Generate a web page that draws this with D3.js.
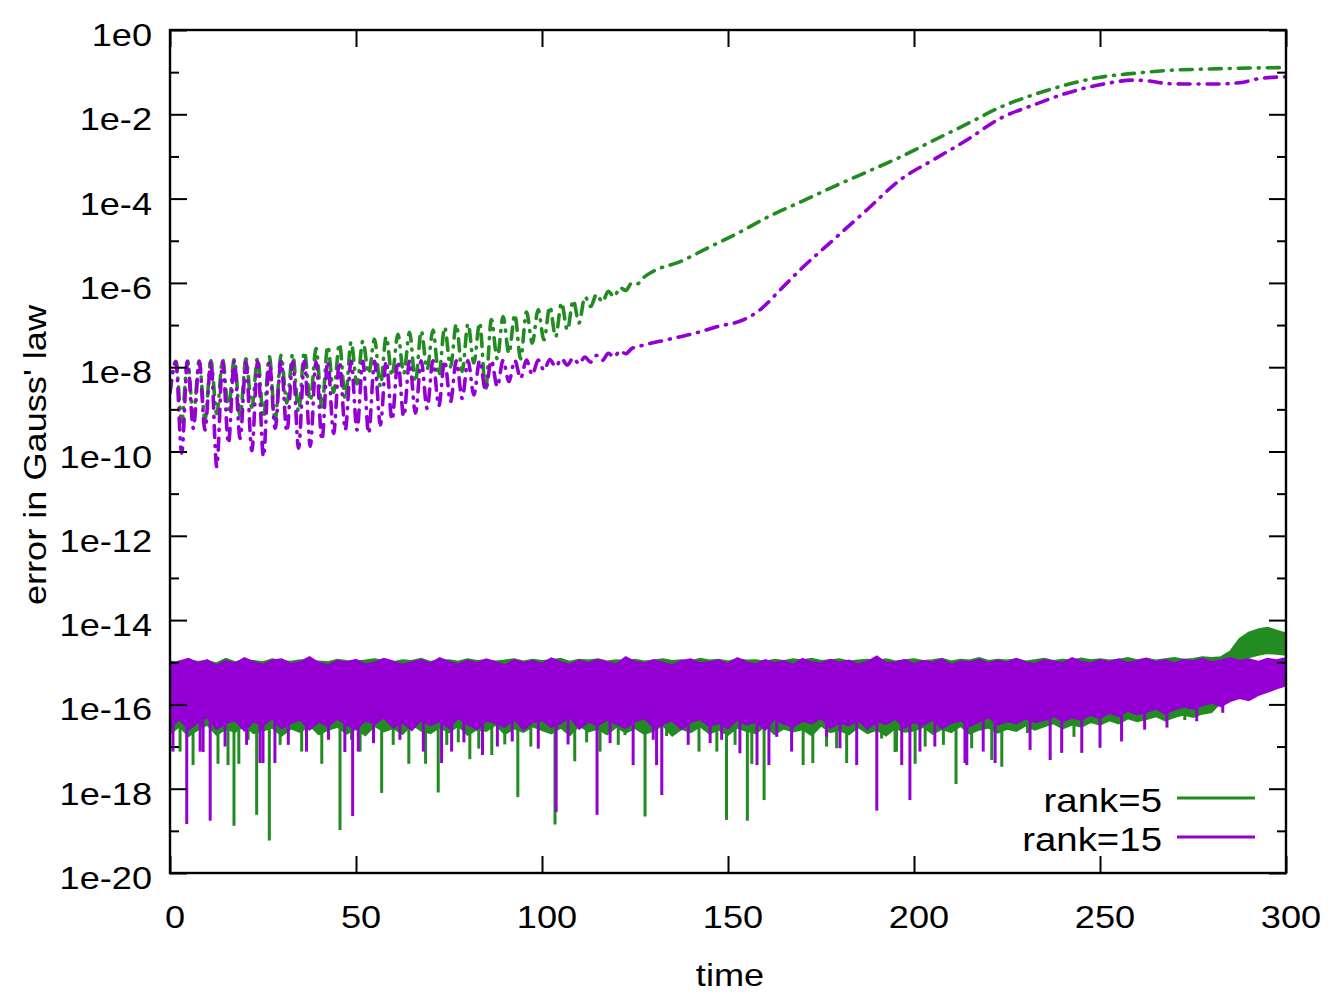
<!DOCTYPE html>
<html>
<head>
<meta charset="utf-8">
<script src="https://cdn.jsdelivr.net/npm/d3@7"></script>
<style>
body { margin: 0; background: #fff; }
text { font-family: "Liberation Sans", Arial, Helvetica, sans-serif; font-size: 32px; fill: #000; }
</style>
</head>
<body>
<div id="chart"></div>
<script>
// values are log10 of the error
var xTicks = [0, 50, 100, 150, 200, 250, 300];
var yMajor = [0, -2, -4, -6, -8, -10, -12, -14, -16, -18, -20];
var yMinor = [-1, -3, -5, -7, -9, -11, -13, -15, -17, -19];
var seriesNames = ["rank=5", "rank=15"];
var seriesColors = ["#228b22", "#9400d3"];

// noise band, sampled every 2.5 time units (t = 0 .. 300)
var bandStep = 2.5;
var rank5Top = [
  -14.98,-15.02,-14.96,-14.99,-14.97,-15.03,-14.92,-15.00,-14.95,-14.97,
  -15.00,-14.93,-14.97,-14.99,-14.95,-14.96,-14.98,-15.00,-14.94,-14.97,
  -14.98,-14.96,-14.93,-14.97,-15.00,-14.95,-14.97,-14.92,-14.99,-14.96,
  -14.95,-14.99,-14.93,-14.97,-14.95,-14.98,-14.96,-14.93,-14.98,-14.94,
  -14.97,-14.95,-14.92,-14.99,-14.94,-14.96,-14.93,-14.98,-14.95,-14.97,
  -14.94,-14.98,-14.96,-14.93,-14.97,-14.95,-14.98,-14.92,-14.96,-14.94,
  -14.98,-14.93,-14.96,-14.95,-14.99,-14.94,-14.97,-14.93,-14.96,-14.92,
  -14.97,-14.95,-14.93,-14.98,-14.96,-14.94,-14.97,-14.93,-14.98,-14.95,
  -14.93,-14.97,-14.95,-14.92,-14.98,-14.94,-14.96,-14.90,-14.97,-14.94,
  -14.96,-14.93,-14.98,-14.95,-14.92,-14.97,-14.94,-14.96,-14.91,-14.95,
  -14.93,-14.96,-14.94,-14.90,-14.95,-14.92,-14.96,-14.93,-14.90,-14.94,
  -14.92,-14.88,-14.90,-14.88,-14.75,-14.45,-14.30,-14.22,-14.18,-14.25,
  -14.32];
var rank5Bottom = [
  -16.70,-16.52,-16.75,-16.60,-16.48,-16.72,-16.58,-16.65,-16.50,-16.68,
  -16.62,-16.55,-16.74,-16.57,-16.66,-16.49,-16.71,-16.60,-16.53,-16.69,
  -16.58,-16.73,-16.51,-16.64,-16.56,-16.70,-16.47,-16.62,-16.68,-16.54,
  -16.66,-16.50,-16.72,-16.59,-16.63,-16.48,-16.70,-16.57,-16.65,-16.52,
  -16.61,-16.69,-16.55,-16.73,-16.50,-16.64,-16.58,-16.71,-16.53,-16.67,
  -16.56,-16.70,-16.62,-16.49,-16.74,-16.58,-16.66,-16.52,-16.69,-16.60,
  -16.72,-16.55,-16.63,-16.68,-16.51,-16.70,-16.57,-16.64,-16.59,-16.73,
  -16.50,-16.66,-16.61,-16.71,-16.54,-16.68,-16.60,-16.74,-16.56,-16.65,
  -16.62,-16.53,-16.70,-16.58,-16.66,-16.51,-16.69,-16.60,-16.55,-16.67,
  -16.58,-16.63,-16.50,-16.60,-16.52,-16.45,-16.57,-16.48,-16.53,-16.42,
  -16.48,-16.38,-16.45,-16.33,-16.40,-16.35,-16.28,-16.38,-16.30,-16.24,
  -16.30,-16.22,-16.18,-15.95,-15.40,-15.05,-14.88,-14.82,-14.78,-14.80,
  -14.82];
var rank15Top = [
  -15.05,-14.98,-14.92,-15.02,-14.95,-15.08,-14.97,-15.03,-14.90,-15.00,
  -15.06,-14.96,-14.93,-15.04,-15.00,-14.88,-15.02,-15.07,-14.97,-15.00,
  -14.94,-15.05,-15.01,-14.92,-14.98,-15.06,-15.00,-14.95,-15.03,-14.90,
  -14.99,-15.05,-14.96,-15.02,-14.93,-15.00,-15.07,-14.95,-15.01,-14.97,
  -15.04,-14.91,-15.00,-15.06,-14.96,-15.02,-14.94,-15.00,-15.05,-14.88,
  -14.99,-15.03,-14.95,-15.01,-15.07,-14.97,-14.93,-15.02,-15.00,-14.96,
  -15.04,-14.90,-15.00,-15.05,-14.95,-15.02,-14.97,-15.06,-14.92,-15.00,
  -15.03,-14.94,-15.01,-14.96,-15.05,-14.99,-14.86,-15.02,-15.00,-14.95,
  -15.04,-14.97,-15.01,-14.93,-15.06,-14.98,-15.00,-14.94,-15.03,-14.96,
  -15.01,-14.92,-15.00,-15.04,-14.95,-14.98,-15.02,-14.90,-14.99,-15.03,
  -14.95,-15.00,-14.93,-15.02,-14.97,-14.91,-15.00,-14.95,-15.03,-14.94,
  -14.98,-14.92,-15.00,-14.96,-14.90,-14.97,-14.93,-14.99,-14.92,-14.95,
  -14.90];
var rank15Bottom = [
  -16.55,-16.35,-16.60,-16.42,-16.30,-16.58,-16.45,-16.38,-16.62,-16.40,
  -16.50,-16.33,-16.57,-16.44,-16.36,-16.60,-16.41,-16.52,-16.34,-16.48,
  -16.58,-16.39,-16.46,-16.31,-16.55,-16.43,-16.61,-16.37,-16.49,-16.40,
  -16.56,-16.32,-16.47,-16.59,-16.38,-16.44,-16.53,-16.35,-16.60,-16.42,
  -16.37,-16.54,-16.45,-16.30,-16.58,-16.41,-16.50,-16.36,-16.47,-16.56,
  -16.40,-16.33,-16.55,-16.46,-16.38,-16.59,-16.42,-16.35,-16.52,-16.44,
  -16.57,-16.36,-16.48,-16.41,-16.60,-16.34,-16.46,-16.53,-16.39,-16.45,
  -16.32,-16.56,-16.43,-16.50,-16.37,-16.58,-16.40,-16.47,-16.34,-16.55,
  -16.42,-16.49,-16.36,-16.57,-16.44,-16.38,-16.52,-16.41,-16.30,-16.48,
  -16.40,-16.45,-16.33,-16.42,-16.37,-16.28,-16.40,-16.31,-16.36,-16.25,
  -16.32,-16.20,-16.28,-16.15,-16.24,-16.18,-16.10,-16.22,-16.12,-16.05,
  -16.10,-16.02,-15.96,-16.04,-15.92,-15.85,-15.90,-15.78,-15.70,-15.62,
  -15.55];

// downward spikes below the band: [time, log10 error]
var rank5Spikes = [
  [2.7,-17.12],[6.2,-17.44],[12.9,-17.41],[15.6,-17.44],[17.2,-18.88],[18.5,-17.41],
  [21,-16.84],[23.3,-18.62],[26.7,-19.23],[29.6,-16.96],[35.4,-17.12],[40.8,-17.41],
  [45.7,-18.98],[48.8,-16.84],[51.1,-17.12],[56.9,-18.1],[60,-16.96],[64.2,-17.41],
  [68.7,-17.41],[72.1,-18.09],[74.4,-16.96],[77.5,-16.9],[80.6,-17.3],[83,-17.05],
  [86.5,-17.2],[90,-16.95],[93.5,-18.2],[97,-17.0],[103.5,-18.85],[108.8,-17.35],
  [112,-16.9],[115.6,-17.12],[120.5,-16.96],[122.3,-16.73],[127.7,-18.66],[133.5,-16.75],
  [135.8,-16.7],[142.2,-17.12],[147,-17.12],[149.6,-18.74],[151.9,-16.96],[155.2,-18.76],
  [156.4,-17.41],[159.7,-18.27],[170.2,-17.44],[172.8,-17.39],[176.5,-17.0],[179.2,-17.04],
  [181.9,-17.39],[191.3,-16.81],[194.9,-17.13],[195.3,-17.12],[200.3,-17.41],[203,-17.0],
  [207.9,-16.96],[211.3,-17.89],[215.5,-17.04],[220.9,-17.32],[223.6,-17.48],[230.5,-16.68],
  [243,-16.77],[272.8,-16.37]];
var rank15Spikes = [
  [0.8,-17.12],[4.5,-18.84],[8.1,-17.12],[8.9,-17.13],[10.8,-18.76],[14.8,-17.0],
  [20.6,-16.96],[24.2,-17.39],[25,-17.39],[28.2,-17.39],[31.8,-16.96],[36.7,-17.12],
  [42.6,-16.84],[47,-17.13],[49.1,-18.65],[50.6,-17.12],[54.7,-16.92],[61.8,-16.84],
  [68.1,-17.12],[73,-17.39],[75.7,-17.12],[79,-16.9],[84,-17.2],[88,-17.0],
  [92,-16.88],[99,-17.05],[103.8,-18.55],[107,-16.95],[114.8,-18.62],[118.3,-16.92],
  [124.5,-17.44],[129.9,-16.84],[130.8,-17.44],[132.2,-18.15],[139.3,-16.96],[145.2,-16.92],
  [148.3,-16.84],[153.2,-17.16],[157.8,-17.44],[161,-17.44],[163.1,-16.77],[167.1,-17.12],
  [176.5,-16.77],[180.1,-17.04],[184.6,-17.44],[190,-18.52],[196.7,-17.44],[198.9,-18.27],
  [201.6,-17.12],[205.6,-17.0],[213.7,-17.39],[214.2,-17.44],[218.6,-17.12],[221.8,-17.39],
  [231.2,-17.08],[236.6,-17.32],[239.7,-17.15],[245.1,-17.15],[250,-17.03],[255.8,-16.88],
  [262,-16.6],[268,-16.55],[276,-16.4],[283,-16.2]];

// dash-dot curves: [time, log10 error]
var rank5Dashed = [
  [0,-8.6],[1.57,-7.86],[3.14,-9.3],[4.71,-7.86],[6.28,-9.15],[7.85,-7.85],[9.42,-9.25],
  [11.0,-7.84],[12.57,-9.1],[14.14,-7.82],[15.71,-9.0],[17.28,-7.81],[18.85,-9.15],
  [20.42,-7.8],[21.99,-8.95],[23.56,-7.78],[25.13,-9.2],[26.7,-7.75],[28.27,-9.25],
  [29.85,-7.72],[31.42,-8.85],[32.99,-7.69],[34.56,-9.05],[36.13,-7.63],[37.7,-8.8],
  [39.27,-7.56],[40.84,-8.95],[42.41,-7.5],[43.98,-8.6],[45.55,-7.44],[47.12,-8.75],
  [48.69,-7.4],[50.27,-8.4],[51.84,-7.38],[53.41,-8.15],[54.98,-7.33],[56.55,-8.45],
  [58.12,-7.28],[59.69,-8.2],[61.26,-7.22],[62.83,-8.15],[64.4,-7.17],[65.97,-8.35],
  [67.54,-7.14],[69.12,-8.05],[70.69,-7.12],[72.26,-8.2],[73.83,-7.05],[75.4,-7.99],
  [76.97,-6.98],[78.54,-8.1],[80.11,-6.97],[81.68,-7.9],[83.25,-6.94],[84.82,-8.54],
  [86.39,-6.87],[87.96,-7.8],[89.54,-6.8],[91.11,-7.67],[92.68,-6.75],[94.25,-7.8],
  [95.82,-6.69],[97.39,-7.43],[98.96,-6.63],[100.53,-7.35],[102.1,-6.56],[103.67,-7.28],
  [105.24,-6.47],[106.81,-7.12],[108.38,-6.41],[109.96,-6.95],[111.53,-6.33],[113.1,-6.56],
  [114.67,-6.27],[116.24,-6.45],[117.81,-6.2],[119.38,-6.33],[120.95,-6.11],[122.52,-6.18],
  [124.09,-6.01],[125.66,-6.02],[127.2,-5.88],[130,-5.72],[137,-5.5],[145,-5.15],
  [152,-4.85],[160.4,-4.45],[170,-4.06],[178.3,-3.72],[187,-3.38],[196.2,-3.02],
  [205,-2.63],[214,-2.24],[223,-1.84],[232,-1.54],[241,-1.3],[250,-1.12],[259,-1.03],
  [268,-0.96],[277,-0.93],[286,-0.91],[300,-0.89]];
var rank15Dashed = [
  [0,-8.6],[1.57,-7.88],[3.14,-10.04],[4.71,-7.86],[6.28,-9.45],[7.85,-7.87],[9.42,-9.49],
  [11.0,-7.86],[12.57,-10.36],[14.14,-7.87],[15.71,-9.81],[17.28,-7.86],[18.85,-9.69],
  [20.42,-7.88],[21.99,-9.98],[23.56,-7.86],[25.13,-10.12],[26.7,-7.87],[28.27,-9.45],
  [29.85,-7.86],[31.42,-9.53],[32.99,-7.87],[34.56,-9.92],[36.13,-7.86],[37.7,-9.88],
  [39.27,-7.87],[40.84,-9.73],[42.41,-7.86],[43.98,-9.57],[45.55,-7.87],[47.12,-9.49],
  [48.69,-7.86],[50.27,-9.49],[51.84,-7.86],[53.41,-9.57],[54.98,-7.86],[56.55,-9.37],
  [58.12,-7.86],[59.69,-9.25],[61.26,-7.86],[62.83,-9.17],[64.4,-7.85],[65.97,-9.09],
  [67.54,-7.85],[69.12,-8.98],[70.69,-7.85],[72.26,-8.92],[73.83,-7.85],[75.4,-8.82],
  [76.97,-7.85],[78.54,-8.74],[80.11,-7.84],[81.68,-8.66],[83.25,-7.84],[84.82,-8.54],
  [86.39,-7.84],[87.96,-8.46],[89.54,-7.84],[91.11,-8.34],[92.68,-7.84],[94.25,-8.26],
  [95.82,-7.83],[97.39,-8.18],[98.96,-7.83],[100.53,-8.07],[102.1,-7.82],[103.67,-7.99],
  [105.24,-7.8],[106.81,-7.95],[108.38,-7.78],[109.96,-7.92],[111.53,-7.76],[113.1,-7.88],
  [114.67,-7.72],[116.24,-7.84],[117.81,-7.67],[119.38,-7.76],[120.95,-7.61],[122.52,-7.68],
  [124.09,-7.56],[126.3,-7.5],[133.5,-7.35],[142.5,-7.16],[147,-7.04],[154.1,-6.88],
  [158.6,-6.64],[164,-6.17],[169.4,-5.69],[178.3,-4.98],[187.3,-4.27],[196.2,-3.56],
  [205.2,-3.08],[214.2,-2.61],[223.1,-2.1],[232.1,-1.78],[241,-1.5],[250,-1.3],[259,-1.19],
  [263.4,-1.21],[267.9,-1.27],[272.4,-1.28],[281.3,-1.28],[287.6,-1.25],[293,-1.15],[300,-1.11]];

var width = 1334, height = 1000;
var plot = {left: 170, right: 1286, top: 30, bottom: 873};
var textStretch = "scale(1.13,1)";

var pow10 = function(v) { return Math.pow(10, v); };

var x = d3.scaleLinear().domain([0, 300]).range([plot.left, plot.right]);
var y = d3.scaleLog().domain([1e-20, 1]).range([plot.bottom, plot.top]);

var svg = d3.select("#chart").append("svg")
    .attr("width", width)
    .attr("height", height)
    .attr("viewBox", "0 0 " + width + " " + height);

svg.append("rect").attr("width", width).attr("height", height).attr("fill", "#fff");

svg.append("clipPath").attr("id", "plotClip")
  .append("rect")
    .attr("x", plot.left).attr("y", plot.top)
    .attr("width", plot.right - plot.left).attr("height", plot.bottom - plot.top);

var layer = svg.append("g").attr("clip-path", "url(#plotClip)");

var band = d3.area()
    .x(function(d) { return x(d.t); })
    .y0(function(d) { return y(pow10(d.lo)); })
    .y1(function(d) { return y(pow10(d.hi)); });

var bandRows = function(top, bottom) {
    return top.map(function(v, i) { return {t: i * bandStep, hi: v, lo: bottom[i]}; });
};

var drawNoise = function(top, bottom, spikes, color) {
    layer.append("path")
        .datum(bandRows(top, bottom))
        .attr("d", band)
        .attr("fill", color)
        .attr("stroke", color)
        .attr("stroke-width", 2)
        .attr("stroke-linejoin", "miter");

    layer.append("g").selectAll("line")
        .data(spikes)
      .join("line")
        .attr("x1", function(d) { return x(d[0]); })
        .attr("x2", function(d) { return x(d[0]); })
        .attr("y1", y(pow10(-15.8)))
        .attr("y2", function(d) { return y(pow10(d[1])); })
        .attr("stroke", color)
        .attr("stroke-width", 3);
};

drawNoise(rank5Top, rank5Bottom, rank5Spikes, seriesColors[0]);
drawNoise(rank15Top, rank15Bottom, rank15Spikes, seriesColors[1]);

var dashLine = d3.line()
    .x(function(d) { return x(d[0]); })
    .y(function(d) { return y(pow10(d[1])); })
    .curve(d3.curveMonotoneX);

[rank5Dashed, rank15Dashed].forEach(function(data, i) {
    layer.append("path")
        .datum(data)
        .attr("d", dashLine)
        .attr("fill", "none")
        .attr("stroke", seriesColors[i])
        .attr("stroke-width", 3.6)
        .attr("stroke-linecap", "round")
        .attr("stroke-dasharray", "12,8,1,8");
});

// ticks, all pointing inward
var tickAxis = function(axis, values, size, transform) {
    var g = svg.append("g")
        .attr("transform", transform)
        .call(axis.tickValues(values).tickSize(-size).tickFormat(""));
    g.select(".domain").remove();
    g.selectAll("line").attr("stroke", "#000").attr("stroke-width", 2);
};
var yMajorVals = yMajor.map(pow10), yMinorVals = yMinor.map(pow10);
tickAxis(d3.axisLeft(y), yMajorVals, 17, "translate(" + plot.left + ",0)");
tickAxis(d3.axisLeft(y), yMinorVals, 9, "translate(" + plot.left + ",0)");
tickAxis(d3.axisRight(y), yMajorVals, 17, "translate(" + plot.right + ",0)");
tickAxis(d3.axisRight(y), yMinorVals, 9, "translate(" + plot.right + ",0)");
tickAxis(d3.axisBottom(x), xTicks, 17, "translate(0," + plot.bottom + ")");
tickAxis(d3.axisTop(x), xTicks, 17, "translate(0," + plot.top + ")");

svg.append("rect")
    .attr("x", plot.left).attr("y", plot.top)
    .attr("width", plot.right - plot.left).attr("height", plot.bottom - plot.top)
    .attr("fill", "none").attr("stroke", "#000").attr("stroke-width", 2.4);

// tick labels
svg.append("g").selectAll("g")
    .data(yMajor)
  .join("g")
    .attr("transform", function(d) { return "translate(152," + (y(pow10(d)) + 16) + ") " + textStretch; })
  .append("text")
    .attr("text-anchor", "end")
    .text(function(d) { return "1e" + d; });

svg.append("g").selectAll("g")
    .data(xTicks)
  .join("g")
    .attr("transform", function(d) { return "translate(" + (x(d) + 5) + ",928) " + textStretch; })
  .append("text")
    .attr("text-anchor", "middle")
    .text(function(d) { return d; });

// axis titles
svg.append("g")
    .attr("transform", "translate(730,986) " + textStretch)
  .append("text")
    .attr("text-anchor", "middle")
    .text("time");

svg.append("g")
    .attr("transform", "translate(46,455) rotate(-90) " + textStretch)
  .append("text")
    .attr("text-anchor", "middle")
    .text("error in Gauss' law");

// legend
var legend = svg.append("g").selectAll("g")
    .data(seriesNames)
  .join("g")
    .attr("transform", function(d, i) { return "translate(0," + (798 + i * 39) + ")"; });

legend.append("line")
    .attr("x1", 1177).attr("x2", 1255)
    .attr("stroke", function(d, i) { return seriesColors[i]; })
    .attr("stroke-width", 3);

legend.append("g")
    .attr("transform", "translate(1162,14) scale(1.2,1.06)")
  .append("text")
    .attr("text-anchor", "end")
    .text(function(d) { return d; });
</script>
</body>
</html>
